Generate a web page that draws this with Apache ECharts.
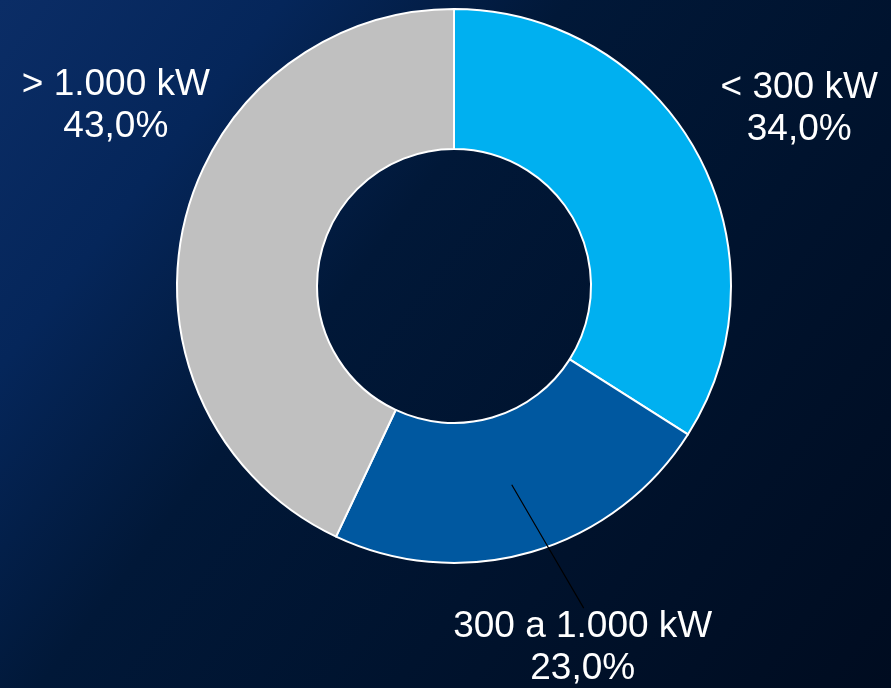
<!DOCTYPE html>
<html>
<head>
<meta charset="utf-8">
<script src="https://cdn.jsdelivr.net/npm/echarts@6/dist/echarts.min.js"></script>
<style>
html,body{margin:0;padding:0;width:891px;height:688px;overflow:hidden;background:#011434;}
#chart{width:891px;height:688px;}
</style>
</head>
<body>
<div id="chart"></div>
<script>
const categories = ['< 300 kW', '300 a 1.000 kW', '> 1.000 kW'];
const shares = [34.0, 23.0, 43.0];
const sliceColors = ['#00B0F0', '#0058A0', '#C0C0C0'];

const W = 891, H = 688;
const CX = 454, CY = 286, R_IN = 137, R_OUT = 277;
// label anchor positions (fractions of canvas)
const labelPos = [[0.897, 0.158], [0.654, 0.942], [0.130, 0.154]];

const total = shares.reduce((a, b) => a + b, 0);
function midAngle(i) {
  let cum = 0;
  for (let k = 0; k < i; k++) cum += shares[k];
  return ((cum + shares[i] / 2) / total) * 2 * Math.PI;
}

const chart = echarts.init(document.getElementById('chart'), null, {renderer: 'canvas'});
chart.setOption({
  animation: false,
  backgroundColor: {
    type: 'linear', x: 0, y: 0, x2: 1, y2: 1,
    colorStops: [
      {offset: 0, color: '#0b2d66'},
      {offset: 0.2, color: '#05265a'},
      {offset: 0.4, color: '#011838'},
      {offset: 0.65, color: '#00132e'},
      {offset: 1, color: '#000c20'}
    ]
  },
  series: [{
    type: 'pie',
    z: 2,
    center: [CX, CY],
    radius: [R_IN, R_OUT],
    startAngle: 90,
    clockwise: true,
    silent: true,
    itemStyle: {borderColor: '#ffffff', borderWidth: 2},
    label: {show: false},
    labelLine: {show: false},
    data: categories.map((c, i) => ({
      name: c,
      value: shares[i],
      itemStyle: {color: sliceColors[i]}
    }))
  }, {
    type: 'pie',
    z: 5,
    center: [CX, CY],
    radius: [R_IN, R_OUT],
    startAngle: 90,
    clockwise: true,
    silent: true,
    avoidLabelOverlap: false,
    itemStyle: {color: 'rgba(0,0,0,0)', borderWidth: 0},
    label: {
      show: true,
      position: 'outside',
      color: '#ffffff',
      fontFamily: 'Liberation Sans, Arial, sans-serif',
      fontSize: 37,
      lineHeight: 42,
      align: 'center',
      formatter: p => p.name + '\n' + p.value.toFixed(1).replace('.', ',') + '%'
    },
    labelLine: {show: false},
    labelLayout: function (params) {
      const i = params.dataIndex;
      const x = labelPos[i][0] * W, y = labelPos[i][1] * H;
      const res = {x: x, y: y, align: 'center', verticalAlign: 'middle'};
      if (i === 1) {
        const a = midAngle(i);
        const rm = (R_IN + R_OUT) / 2;
        const p0 = [CX + rm * Math.sin(a), CY - rm * Math.cos(a)];
        const p2 = [x + 1, y - params.labelRect.height / 2 + 2];
        res.labelLinePoints = [p0, [(p0[0] + p2[0]) / 2, (p0[1] + p2[1]) / 2], p2];
      }
      return res;
    },
    data: categories.map((c, i) => ({
      name: c,
      value: shares[i],
      labelLine: i === 1 ? {show: true, lineStyle: {color: '#000000', width: 1.2}} : {show: false}
    }))
  }]
});
</script>
</body>
</html>
